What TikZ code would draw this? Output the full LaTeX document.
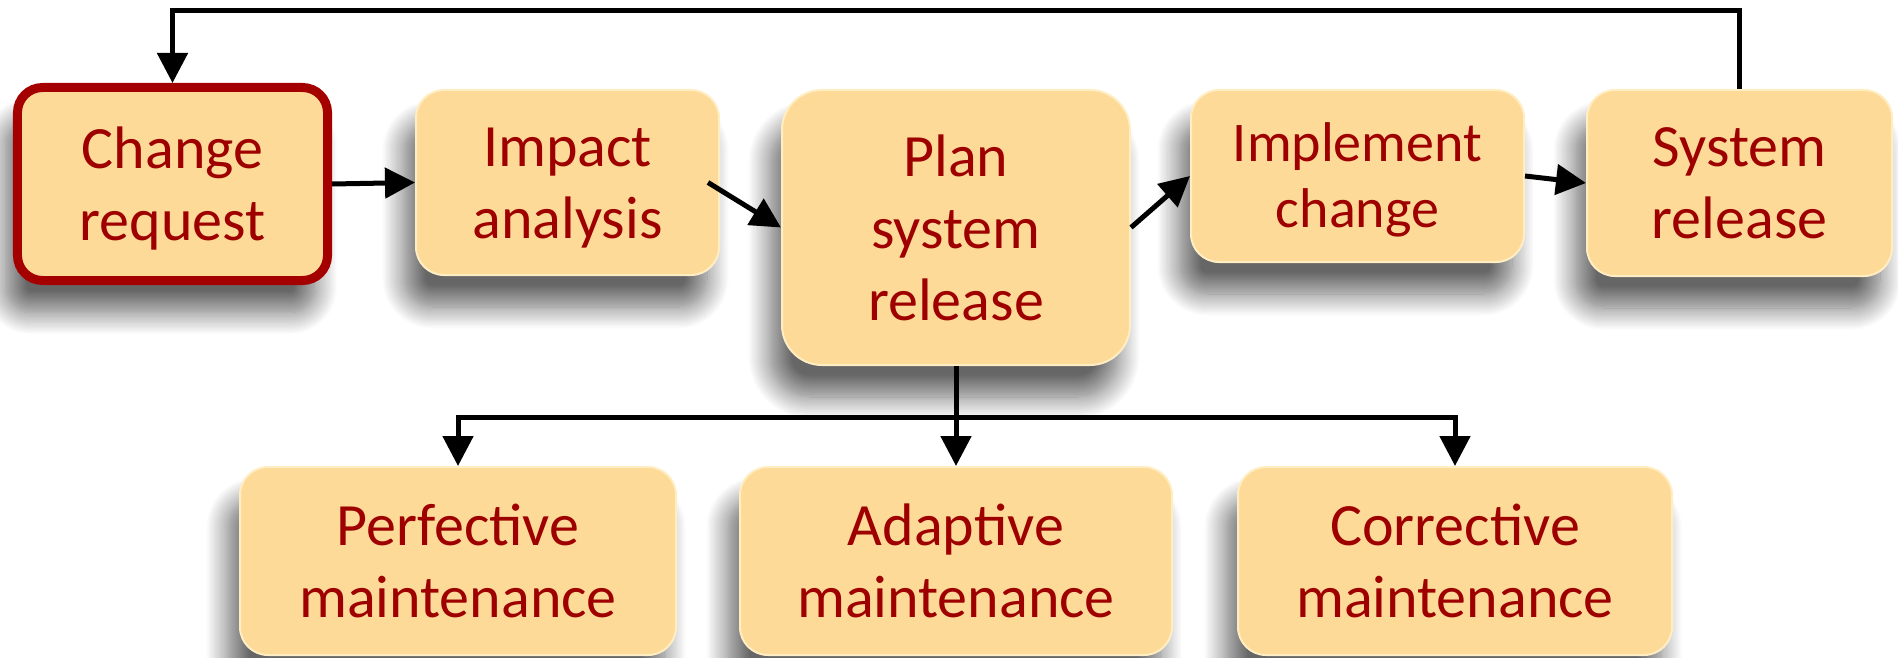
\documentclass[tikz,border=0pt]{standalone}
\usepackage{fontspec}
\setmainfont{Carlito}
\usetikzlibrary{arrows.meta,shadows.blur}
\definecolor{boxfill}{RGB}{253,218,152}
\definecolor{boxedge}{RGB}{255,238,195}
\definecolor{txtred}{RGB}{158,0,0}
\definecolor{crborder}{RGB}{165,0,0}
\begin{document}
\begin{tikzpicture}[x=1bp,y=-1bp,
  box/.style={rounded corners=28bp, fill=boxfill, draw=boxedge, line width=2bp,
    font=\fontsize{60bp}{72bp}\selectfont, text=txtred, align=center, inner sep=0pt,
    blur shadow={shadow xshift=-12bp, shadow yshift=-32bp, shadow blur radius=22bp,
      shadow opacity=60, shadow blur steps=18}},
  arr/.style={line width=5bp, draw=black, -{Triangle[length=30bp,width=30bp]}}]
\useasboundingbox (0,0) rectangle (1898,658);
\node[box, minimum width=310bp, minimum height=193bp, draw=crborder, line width=9bp,
  rounded corners=25bp] (cr) at (172.5,184) {\rule{0pt}{50bp}Change\\request};
\node[box, minimum width=303bp, minimum height=185bp] (ia) at (567.5,182.5) {\rule{0pt}{50bp}Impact\\analysis};
\node[box, minimum width=348bp, minimum height=275bp, rounded corners=40bp] (ps) at (956,227.5) {Plan\\system\\release};
\node[box, minimum width=333bp, minimum height=172bp, font=\fontsize{56bp}{66bp}\selectfont] (ic) at (1357.5,176) {\rule{0pt}{46bp}Implement\\change};
\node[box, minimum width=305bp, minimum height=186bp] (sr) at (1739.5,183) {System\\release};
\node[box, minimum width=436bp, minimum height=188bp] (pm) at (458,561) {Perfective\\maintenance};
\node[box, minimum width=432bp, minimum height=188bp] (am) at (956,561) {Adaptive\\maintenance};
\node[box, minimum width=434bp, minimum height=188bp] (cm) at (1455,561) {Corrective\\maintenance};
\coordinate (barY) at (0,417);
\coordinate (fbY) at (0,11);
\coordinate (split) at (ps.south |- barY);
\draw[arr] (cr.east) -- (ia.west);
\draw[arr] ([xshift=-12bp]ia.east) -- (ps.west);
\draw[arr] (ps.east) -- (ic.west);
\draw[arr] (ic.east) -- (sr.west);
\draw[arr] (ps.south) -- (am.north);
\draw[arr] (split) -| (pm.north);
\draw[arr] (split) -| (cm.north);
\draw[arr] (sr.north) -- (sr.north |- fbY) -| (cr.north);
\end{tikzpicture}
\end{document}
